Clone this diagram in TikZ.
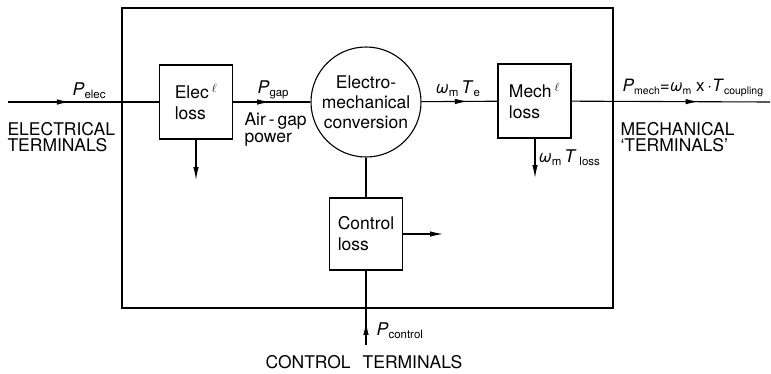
\documentclass[tikz,border=0pt]{standalone}
\usepackage{fontspec}
\setmainfont{TeX Gyre Heros}
\usetikzlibrary{arrows.meta,decorations.markings}
\tikzset{
  tip/.style={-{Latex[length=13pt,width=5.5pt]}},
  flow/.style={decoration={markings,mark=at position #1 with {\arrow{Latex[length=13pt,width=5.5pt]}}},postaction={decorate}},
  lossbox/.style={draw,rectangle,inner sep=0pt,align=left,minimum width=73pt,minimum height=74pt},
  lbl/.style={inner sep=0pt,anchor=base west,align=left},
}
\newcommand{\ital}[1]{\textit{#1}}
\newcommand{\lsub}[1]{\raisebox{-3pt}{\fontsize{11.5}{12}\selectfont #1}}
\newcommand{\ssub}[1]{\raisebox{-3pt}{\fontsize{10.5}{11}\selectfont #1}}
\begin{document}
\begin{tikzpicture}[x=1pt,y=-1pt,line width=1.1pt,
  every node/.style={font=\fontsize{17.5}{21}\selectfont}]
\useasboundingbox (0,0) rectangle (771,373);
% outer machine boundary
\node[draw,rectangle,inner sep=0pt,minimum width=491pt,minimum height=300pt] (machine) at (367.5,158) {};
% blocks
\node[lossbox] (elec) at (196,102) {Elec\,\textsuperscript{$\ell$}\\loss};
\node[draw,circle,inner sep=0pt,minimum size=110pt,align=center,font=\fontsize{17.5}{20}\selectfont] (conv) at (366,102) {Electro-\\mechanical\\conversion};
\node[lossbox] (mech) at (534.5,101) {Mech\,\textsuperscript{$\ell$}\\loss};
\node[lossbox,minimum height=72pt] (ctrl) at (366,234) {Control\\loss};
% free ends
\coordinate (inE) at (8,102);
\coordinate (outM) at (770,102);
\coordinate (elecLoss) at (196,180);
\coordinate (mechLoss) at (535,178);
\coordinate (ctrlLoss) at (443,234);
\coordinate (ctrlIn) at (366,345);
% connectors
\draw[flow=0.41] (inE) -- (elec);
\draw[flow=0.48] (elec) -- (conv);
\draw[flow=0.61] (conv) -- (mech);
\draw[flow=0.64] (mech) -- (outM);
\draw[tip] (elec.south) -- (elecLoss);
\draw[tip] (mech.south -| mechLoss) -- (mechLoss);
\draw (conv) -- (ctrl);
\draw[tip] (ctrl) -- (ctrlLoss);
\draw[flow=0.31] (ctrlIn) -- (ctrl);
% labels
\node[lbl] (lPelec) at (72,95) {\ital{P}\lsub{elec}};
\node[lbl,font=\fontsize{17.5}{16}\selectfont] (lElecT) at (7,151) {ELECTRICAL\\TERMINALS};
\node[lbl] (lPgap) at (257,93) {\ital{P}\lsub{gap}};
\node[lbl,font=\fontsize{17.5}{17}\selectfont] (lAir) at (244,142) {Air\,-\,gap\\power};
\node[lbl] (lTe) at (435,93) {\ital{ω}\lsub{m}\,\ital{T}\lsub{e}};
\node[lbl] (lTloss) at (538,162) {\ital{ω}\lsub{m}\,\ital{T}\,\lsub{loss}};
\node[lbl,font=\fontsize{17}{21}\selectfont] (lPmech) at (622,91) {\ital{P}\ssub{mech}=\ital{ω}\ssub{m} x\,·\ital{T}\ssub{coupling}};
\node[lbl,font=\fontsize{17.5}{16}\selectfont] (lMechT) at (620,151) {MECHANICAL\\‘TERMINALS’};
\node[lbl] (lPctrl) at (376,335) {\ital{P}\lsub{control}};
\node[lbl] (lCtrlT) at (265,368) {CONTROL\hspace{12pt}TERMINALS};
\end{tikzpicture}
\end{document}
